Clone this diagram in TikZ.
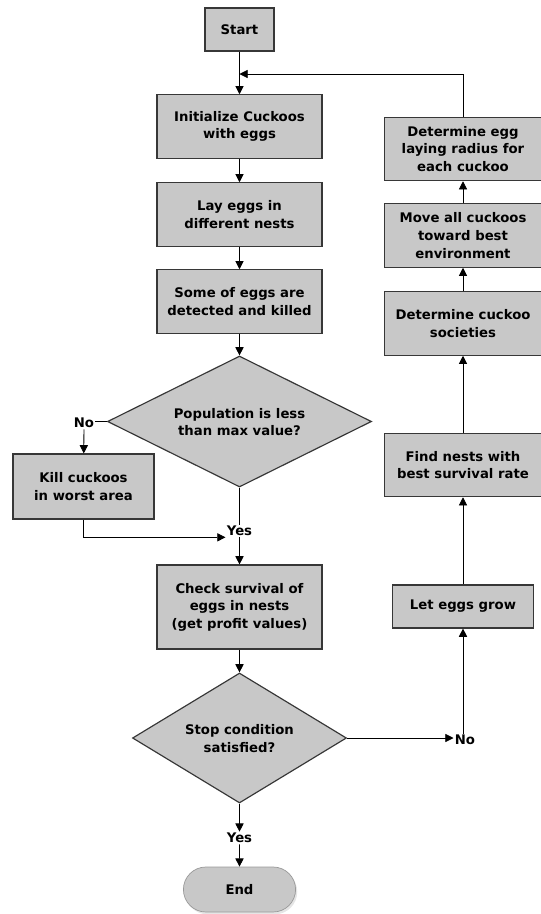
\documentclass[tikz,border=0pt]{standalone}
\usepackage{fontspec}
\setmainfont{DejaVu Sans}
\usetikzlibrary{shapes.geometric,shapes.misc,arrows.meta,positioning,shadows}
\definecolor{boxgray}{RGB}{200,200,200}
\definecolor{edgegray}{RGB}{55,55,55}
% text in a diamond that does not grow the shape
\newcommand{\dtext}[1]{\makebox[0pt]{\smash{\raisebox{-4.5pt}{\begin{tabular}{@{}c@{}}#1\end{tabular}}}}}

\begin{document}
\begin{tikzpicture}[x=0.03cm, y=-0.03cm,
    box/.style={rectangle, draw=edgegray, fill=boxgray, line width=1pt, minimum width=4.95cm, minimum height=1.9cm, align=center, inner sep=1pt, font=\bfseries\fontsize{11.3}{15}\selectfont},
    rbox/.style={box, minimum width=4.7cm},
    decision/.style={diamond, draw=edgegray, fill=boxgray, line width=1pt, inner sep=0pt, font=\bfseries\fontsize{11.3}{15}\selectfont},
    terminal/.style={rounded rectangle, draw=gray!80, fill=boxgray, line width=0.6pt, minimum width=3.6cm, minimum height=1.35cm, font=\bfseries\fontsize{11.3}{15}\selectfont, drop shadow={shadow xshift=0.5mm, shadow yshift=-0.7mm, fill=gray!40}},
    lbl/.style={inner sep=1pt, font=\bfseries\fontsize{11.3}{15}\selectfont},
    arr/.style={-{Triangle[length=7pt, width=7pt]}, line width=0.7pt},
    ln/.style={line width=0.7pt},
]
    \useasboundingbox (0,0) rectangle (541,914);

    % Main column
    \node[box, minimum width=2.07cm, minimum height=1.29cm] (start) at (239.5, 29.5) {Start};
    \node[box] (init) at (239.5, 126.5) {Initialize Cuckoos\\with eggs};
    \node[box] (lay) at (239.5, 214.5) {Lay eggs in\\different nests};
    \node[box] (some) at (239.5, 301.5) {Some of eggs are\\detected and killed};
    \node[decision, minimum width=7.92cm, minimum height=3.93cm] (pop) at (239.5, 421.5) {\dtext{Population is less\\than max value?}};
    \node[box, minimum width=4.23cm, minimum height=1.95cm] (kill) at (83.5, 486.5) {Kill cuckoos\\in worst area};
    \node[box, minimum height=2.52cm] (check) at (239.5, 607) {Check survival of\\eggs in nests\\(get profit values)};
    \node[decision, minimum width=6.42cm, minimum height=3.9cm] (stop) at (239.5, 738) {\dtext{Stop condition\\satisfied?}};
    \node[terminal] (end) at (239.5, 889.5) {End};

    % Right column
    \node[rbox, minimum width=4.23cm, minimum height=1.29cm] (grow) at (463, 606.5) {Let eggs grow};
    \node[rbox] (nests) at (463, 465) {Find nests with\\best survival rate};
    \node[rbox] (soc) at (463, 323.5) {Determine cuckoo\\societies};
    \node[rbox] (move) at (463, 235.5) {Move all cuckoos\\toward best\\environment};
    \node[rbox] (radius) at (463, 149) {Determine egg\\laying radius for\\each cuckoo};

    % Labels
    \node[lbl] (no1) at (84, 423) {No};
    \node[lbl] (yes1) at (239.5, 531) {Yes};
    \node[lbl] (yes2) at (239.5, 838) {Yes};
    \node[lbl] (no2) at (465, 740) {No};
    \coordinate (loop) at (239.5, 74);

    % Arrows
    \draw[arr] (start) -- (init);
    \draw[arr] (radius.north) |- (loop);
    \draw[arr] (init) -- (lay);
    \draw[arr] (lay) -- (some);
    \draw[arr] (some) -- (pop);
    \draw[ln] (pop.west) -- (pop.west -| no1.east);
    \draw[arr] (no1) -- (kill);
    \draw[ln] (pop.south) -- (yes1.north);
    \draw[arr] (kill.south) |- (yes1.south west);
    \draw[arr] (yes1) -- (check);
    \draw[arr] (check) -- (stop);
    \draw[arr] (stop) -- (yes2);
    \draw[arr] (yes2) -- (end);
    \draw[arr] (stop.east) -- (stop.east -| no2.west);
    \draw[arr] (no2.north -| grow) -- (grow);
    \draw[arr] (grow) -- (nests);
    \draw[arr] (nests) -- (soc);
    \draw[arr] (soc) -- (move);
    \draw[arr] (move) -- (radius);
\end{tikzpicture}
\end{document}
